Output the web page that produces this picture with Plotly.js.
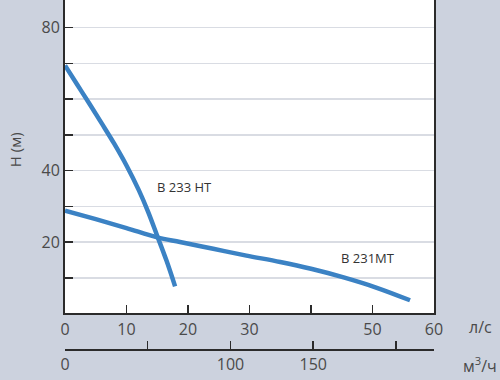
<!DOCTYPE html>
<html>
<head>
<meta charset="utf-8">
<script src="https://cdn.plot.ly/plotly-3.0.1.min.js"></script>
<style>html,body{margin:0;padding:0;background:#ccd2de;}#chart{width:500px;height:380px;}</style>
</head>
<body>
<div id="chart"></div>
<script>
// Data
const flowB233 = [0, 2, 4, 6, 8, 10, 12, 13.5, 15, 16.5, 17.9];
const headB233 = [69.4, 64.0, 58.6, 53.1, 47.5, 41.4, 34.5, 28.5, 21.7, 14.8, 7.6];
const flowB231 = [0, 5, 10, 15, 18.7, 24.1, 29.5, 35, 40, 45.3, 50.7, 56.1];
const headB231 = [28.8, 26.4, 23.9, 21.3, 20.0, 18.1, 16.2, 14.4, 12.5, 10.1, 7.2, 3.7];
const seriesNames = ["B 233 HT", "B 231MT"];
const yTickVals = [0, 10, 20, 30, 40, 50, 60, 70, 80];
const yTickText = ["", "", "20", "", "40", "", "", "", "80"];
const xTickVals = [0, 10, 20, 30, 40, 50, 60];
const xTickText = ["0", "10", "20", "30", "", "50", "60"];
const x2TickVals = [0, 50, 100, 150, 200];
const x2TickText = ["0", "", "100", "150", ""];

const blue = "#3b82c4";
const tickFont = {family: "Open Sans", size: 16, color: "#4a4a4a"};

const traces = [
  {x: flowB233, y: headB233, mode: "lines", line: {color: blue, width: 4.5, shape: "spline", smoothing: 1}, name: seriesNames[0], hoverinfo: "skip"},
  {x: flowB231, y: headB231, mode: "lines", line: {color: blue, width: 4.5, shape: "spline", smoothing: 1}, name: seriesNames[1], hoverinfo: "skip"},
  {x: [0], y: [0], xaxis: "x2", yaxis: "y", mode: "markers", marker: {opacity: 0}, hoverinfo: "skip"}
];

const layout = {
  width: 500, height: 380,
  margin: {l: 65, r: 66, t: 0, b: 30},
  paper_bgcolor: "#ccd2de",
  plot_bgcolor: "#ffffff",
  showlegend: false,
  xaxis: {
    range: [0, 60], tickvals: xTickVals, ticktext: xTickText,
    ticks: "inside", ticklen: 8, tickwidth: 1.5, tickcolor: "#2b2b2b",
    showline: true, linecolor: "#2b2b2b", linewidth: 2,
    showgrid: false, zeroline: false, tickfont: tickFont, anchor: "y", fixedrange: true
  },
  xaxis2: {
    range: [0, 223], tickvals: x2TickVals, ticktext: x2TickText,
    overlaying: "x", anchor: "free", position: 0, side: "bottom",
    ticks: "inside", ticklen: 8, tickwidth: 1.5, tickcolor: "#2b2b2b",
    showline: true, linecolor: "#2b2b2b", linewidth: 2,
    showgrid: false, zeroline: false, tickfont: tickFont, fixedrange: true
  },
  yaxis: {
    range: [0, 87.7], domain: [0.1043, 1],
    tickvals: yTickVals, ticktext: yTickText,
    ticks: "inside", ticklen: 8, tickwidth: 1.5, tickcolor: "#2b2b2b",
    showline: true, mirror: true, linecolor: "#2b2b2b", linewidth: 2,
    showgrid: true, gridcolor: "#d9dce3", gridwidth: 1.5,
    zeroline: false, tickfont: tickFont, fixedrange: true
  },
  annotations: [
    {text: seriesNames[0], x: 19.35, y: 35.4, xref: "x", yref: "y", showarrow: false,
     font: {family: "Open Sans", size: 13, color: "#333333"}},
    {text: seriesNames[1], x: 49.3, y: 15.5, xref: "x", yref: "y", showarrow: false,
     font: {family: "Open Sans", size: 13, color: "#333333"}},
    {text: "л/с", x: 1.125, y: 0.0657, xref: "paper", yref: "paper", showarrow: false,
     xanchor: "center", yanchor: "middle",
     font: {family: "Open Sans", size: 16, color: "#4a4a4a"}},
    {text: "м<sup>3</sup>/ч", x: 1.125, y: -0.043, xref: "paper", yref: "paper", showarrow: false,
     xanchor: "center", yanchor: "middle",
     font: {family: "Open Sans", size: 16, color: "#4a4a4a"}},
    {text: "H (м)", x: -0.1355, y: 0.571, xref: "paper", yref: "paper", showarrow: false, textangle: -90,
     xanchor: "center", yanchor: "middle",
     font: {family: "Open Sans", size: 15, color: "#4a4a4a"}}
  ]
};

Plotly.newPlot("chart", traces, layout, {displayModeBar: false, staticPlot: true});
</script>
</body>
</html>
